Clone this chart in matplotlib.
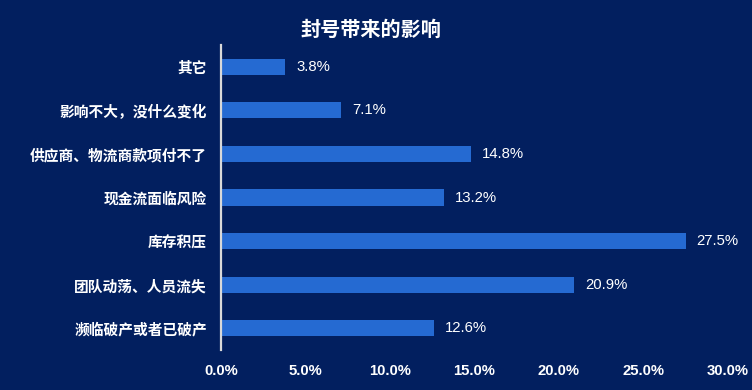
import numpy as np
import matplotlib.pyplot as plt
import matplotlib as mpl

mpl.rcParams['font.family'] = ['Noto Sans CJK SC', 'DejaVu Sans']
mpl.rcParams['axes.unicode_minus'] = False

# 数据（从上到下）
categories = ['其它', '影响不大，没什么变化', '供应商、物流商款项付不了', '现金流面临风险',
              '库存积压', '团队动荡、人员流失', '濒临破产或者已破产']
values = [3.8, 7.1, 14.8, 13.2, 27.5, 20.9, 12.6]
xticks = [0, 5, 10, 15, 20, 25, 30]
title = '封号带来的影响'

bg = '#021f5f'
bar_color = '#256ad2'

fig = plt.figure(figsize=(7.52, 3.9), dpi=100, facecolor=bg)
ax = fig.add_axes([221 / 752, 40 / 390, 507 / 752, 305 / 390])
ax.set_facecolor(bg)

y = np.arange(len(categories))
ax.barh(y, values, height=0.37, color=bar_color)
for yi, v in zip(y, values):
    ax.text(v + 0.65, yi, f'{v:.1f}%', va='center', ha='left', color='white',
            fontsize=10.7, family=['Liberation Sans', 'Noto Sans CJK SC'])

ax.set_ylim(len(categories) - 0.5, -0.5)
ax.set_xlim(0, 30)
ax.set_yticks(y)
ax.set_yticklabels(categories, color='white', fontsize=10.6, fontweight='bold')
ax.set_xticks(xticks)
ax.set_xticklabels([f'{t:.1f}%' for t in xticks], color='white', fontsize=10.7,
                   fontweight='bold', family=['Liberation Sans', 'DejaVu Sans'])
ax.tick_params(axis='y', length=0, pad=10)
ax.tick_params(axis='x', length=0, pad=10)

for s in ['top', 'right', 'bottom']:
    ax.spines[s].set_visible(False)
ax.spines['left'].set_color('#d9d9d9')
ax.spines['left'].set_linewidth(1.6)

fig.text(371 / 752, 1 - 29 / 390, title, ha='center', va='center', color='white',
         fontsize=14.5, fontweight='heavy')

fig.savefig('out.png', dpi=100, facecolor=bg)
